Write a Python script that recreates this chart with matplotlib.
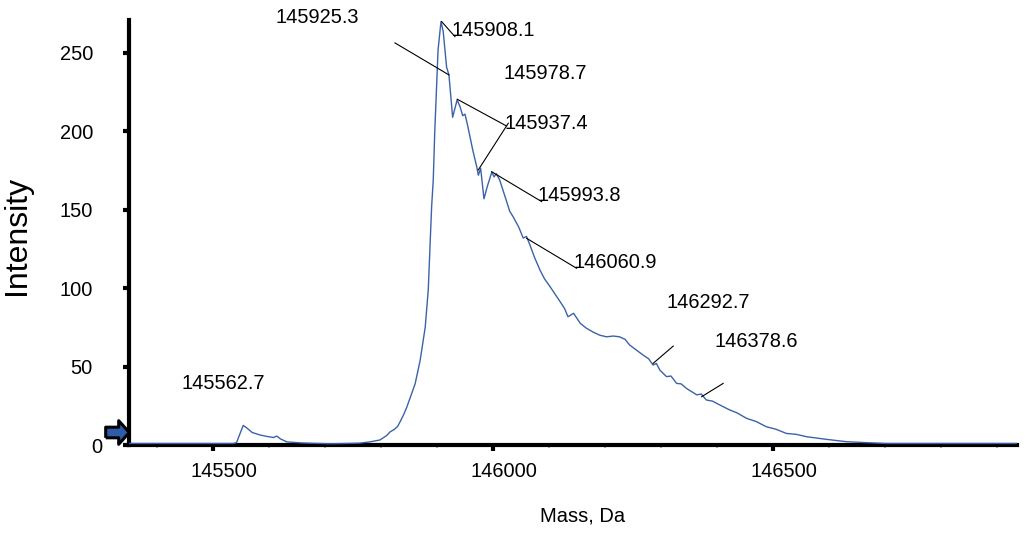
import numpy as np
import matplotlib
matplotlib.use("Agg")
import matplotlib.pyplot as plt
from matplotlib.path import Path
from matplotlib.transforms import ScaledTranslation

plt.rcParams['font.family'] = ['Liberation Sans', 'DejaVu Sans']

# SPECTRUM
mass = [145350, 145500, 145536, 145542, 145548, 145554, 145560, 145570, 145584,
        145596, 145608, 145614, 145620, 145632, 145660, 145708, 145740, 145762,
        145780, 145798, 145810, 145816, 145824, 145830, 145834, 145840, 145846,
        145852, 145861, 145870, 145879, 145884.5, 145887.5, 145890.5, 145893.4,
        145896, 145902, 145907.2,
        145911.2, 145917.2, 145921.4, 145928, 145936, 145941, 145946, 145950,
        145954, 145959, 145964, 145971, 145974, 145978, 145984, 145990,
        145998, 146002, 146006, 146012, 146022, 146030, 146036, 146046, 146054,
        146060, 146066, 146075, 146084, 146092, 146102, 146110, 146120, 146128,
        146134, 146144, 146156, 146167.2, 146179, 146191, 146203, 146215,
        146226, 146236, 146244, 146256, 146268, 146278, 146286, 146292, 146298,
        146310, 146318, 146328, 146336, 146346, 146364, 146372, 146381.2, 146392,
        146405.4, 146423.2, 146436, 146453, 146470, 146488, 146506, 146524,
        146542, 146560, 146596, 146632, 146668, 146702, 146800, 146900, 146936]
intensity = [1, 1, 1, 1.5, 7, 12.5, 11, 8, 6.4,
             5.5, 4.8, 5.7, 4, 2, 1.3, 0.8, 1, 1.2,
             2, 3.2, 6, 8.3, 10, 12, 14.7, 19, 24,
             30, 39, 54, 75, 99, 126, 152, 169,
             199, 252, 270,
             263.6, 241, 236, 209, 220, 216, 210, 211,
             205, 196.6, 188, 177.5, 172, 176.5, 157, 165,
             174, 171, 173, 169, 158, 149, 145.6, 139, 132,
             133, 127.6, 119, 111.6, 106, 101, 96.7, 91.4, 87,
             81.8, 84, 77.6, 74.4, 72, 70, 69, 69.5,
             69, 67.4, 63.8, 60.6, 57.4, 55, 51, 52, 47.8,
             43.6, 44, 39.3, 39, 36, 32, 32.5, 28.7, 28,
             25.5, 22.3, 20.5, 17, 15, 11.7, 10, 7.4,
             6.8, 5.3, 3.6, 2.1, 1.5, 1.0, 1, 1, 1]

# PEAK LABELS (text left edge, text centre height)
label_text = ["145925.3", "145908.1", "145978.7", "145937.4", "145993.8",
              "146060.9", "146292.7", "146378.6", "145562.7"]
label_mass = [145610.8, 145926.8, 146018.0, 146021.4, 146080.4,
              146144.6, 146310.8, 146396.4, 145444.6]
label_int = [272.3, 264.0, 236.6, 204.7, 159.4, 116.1, 90.6, 66.3, 39.5]

# LEADER LINES (from, to)
lead_x0 = [145825.0, 145908.4, 145936.2, 145973.8, 145997.6, 146060.2, 146286.2, 146372.6]
lead_y0 = [256.4, 270.0, 220.5, 175.4, 174.3, 131.8, 52.1, 30.8]
lead_x1 = [145921.4, 145932.2, 146024.4, 146027.4, 146087.0, 146149.4, 146322.0, 146411.2]
lead_y1 = [236.0, 260.4, 203.4, 205.2, 155.2, 112.7, 63.1, 39.3]

fig = plt.figure(figsize=(10.27, 5.41), dpi=100)
ax = fig.add_axes([0.1256, 0.1774, 0.8647, 0.7856])

ax.plot(mass, intensity, color="#3b62a8", linewidth=1.0, zorder=3)

for x0, y0, x1, y1 in zip(lead_x0, lead_y0, lead_x1, lead_y1):
    ax.plot([x0, x1], [y0, y1], color="black", linewidth=0.8, zorder=4)

for t, x, y in zip(label_text, label_mass, label_int):
    ax.text(x, y, t, fontsize=14.4, ha="left", va="center", clip_on=False)

# ARROW MARKER AT ORIGIN
arrow = Path([(-1, -0.45), (0.1, -0.45), (0.1, -1.0), (1, 0), (0.1, 1.0), (0.1, 0.45),
              (-1, 0.45), (-1, -0.45)])
ax.plot([145329], [8.3], marker=arrow, markersize=17, markerfacecolor="#2e5ca8",
        markeredgecolor="black", markeredgewidth=2.2, clip_on=False, zorder=5)

ax.set_xlim(145350, 146936)
ax.set_ylim(0, 271)

for s in ["top", "right"]:
    ax.spines[s].set_visible(False)
for s in ["left", "bottom"]:
    ax.spines[s].set_linewidth(3)

ax.set_xticks([145500, 146000, 146500])
ax.set_xticks(np.arange(145400, 146901, 100), minor=True)
ax.set_yticks([0, 50, 100, 150, 200, 250])
ax.tick_params(axis="both", which="major", direction="out", length=4, width=3,
               labelsize=14.4)
ax.tick_params(axis="x", which="major", pad=8)
ax.tick_params(axis="y", which="major", pad=22)
ax.tick_params(axis="x", which="minor", direction="out", length=2, width=1.5,
               color="#b0b0b0")

for lab in ax.get_xticklabels():
    lab.set_transform(lab.get_transform() + ScaledTranslation(0.11, 0, fig.dpi_scale_trans))
zero = ax.yaxis.get_major_ticks()[0].label1
zero.set_transform(zero.get_transform() + ScaledTranslation(0.09, 0, fig.dpi_scale_trans))

ax.set_ylabel("Intensity", fontsize=23)
ax.yaxis.set_label_coords(-0.126, 0.494)
ax.set_xlabel("Mass, Da", fontsize=14.5)
ax.xaxis.set_label_coords(0.511, -0.167)
ax.xaxis.label.set_va("center")
ax.yaxis.label.set_va("center")

fig.savefig("out.png", dpi=100)
